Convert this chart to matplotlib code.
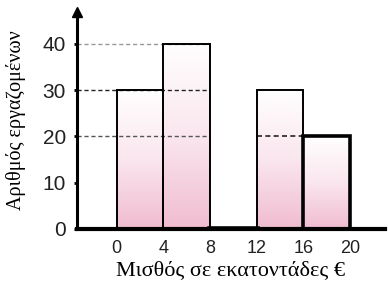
import numpy as np
import matplotlib
matplotlib.use("Agg")
import matplotlib.pyplot as plt
from matplotlib.colors import LinearSegmentedColormap

# Data
bin_edges = [0, 4, 8, 12, 16, 20]
counts = [30, 40, 0, 30, 20]
y_ticks = [0, 10, 20, 30, 40]
x_label = "Μισθός σε εκατοντάδες €"
y_label = "Αριθμός εργαζομένων"

fig = plt.figure(figsize=(3.88, 2.88), dpi=100)
ax = fig.add_axes([77/388, 59/288, 308/388, 217/288])
ax.set_xlim(-3.4, 23.0)
ax.set_ylim(0, 46.9)

cmap = LinearSegmentedColormap.from_list("pk", ["#ffffff", "#fae6ee", "#f0bcd0"])
grad = np.linspace(0, 1, 256).reshape(-1, 1)

for i, h in enumerate(counts):
    x0, x1 = bin_edges[i], bin_edges[i + 1]
    if h > 0:
        ax.imshow(grad, extent=(x0, x1, 0, h), origin="upper", cmap=cmap,
                  aspect="auto", zorder=1, interpolation="bilinear")
        lw = 2.6 if i == len(counts) - 1 else 1.4
        ax.plot([x0, x0, x1, x1], [0, h, h, 0], color="black", lw=lw, zorder=3,
                solid_joinstyle="miter")
    else:
        ax.plot([x0, x1], [0, 0], color="black", lw=4, zorder=4)

# dashed guide lines from the y axis to the bars
xl = ax.get_xlim()[0]
ax.plot([xl, bin_edges[2]], [counts[1], counts[1]], ls=(0, (3, 2)), color="#999999", lw=1, zorder=2)
ax.plot([xl, bin_edges[2]], [counts[0], counts[0]], ls=(0, (3, 2)), color="#222222", lw=1, zorder=2)
ax.plot([xl, bin_edges[2]], [counts[4], counts[4]], ls=(0, (3, 2)), color="#555555", lw=1, zorder=2)
ax.plot([bin_edges[3], bin_edges[4]], [counts[4], counts[4]], ls=(0, (3, 2)), color="#222222", lw=1.2, zorder=2)

for s in ["top", "right"]:
    ax.spines[s].set_visible(False)
ax.spines["left"].set_linewidth(2.2)
ax.spines["bottom"].set_linewidth(3)
ax.spines["left"].set_zorder(5)
ax.spines["bottom"].set_zorder(5)

# arrow on y axis
ax.plot([xl], [46.9], marker="^", color="black", markersize=7, clip_on=False, zorder=6)

ax.set_xticks(bin_edges)
ax.set_xticklabels([str(v) for v in bin_edges], fontsize=13, family="Liberation Sans", color="#222222")
ax.set_yticks(y_ticks)
ax.set_yticklabels([str(v) for v in y_ticks], fontsize=15, family="Liberation Sans", color="#222222")
ax.tick_params(axis="x", length=0, pad=8)
ax.tick_params(axis="y", length=2, width=2, pad=6)

ax.set_xlabel(x_label, fontsize=16, family="Liberation Serif", labelpad=3)
ax.set_ylabel(y_label, fontsize=14.5, family="Liberation Serif")
ax.yaxis.set_label_coords(-0.165, 0.5)

fig.savefig("out.png", dpi=100)
